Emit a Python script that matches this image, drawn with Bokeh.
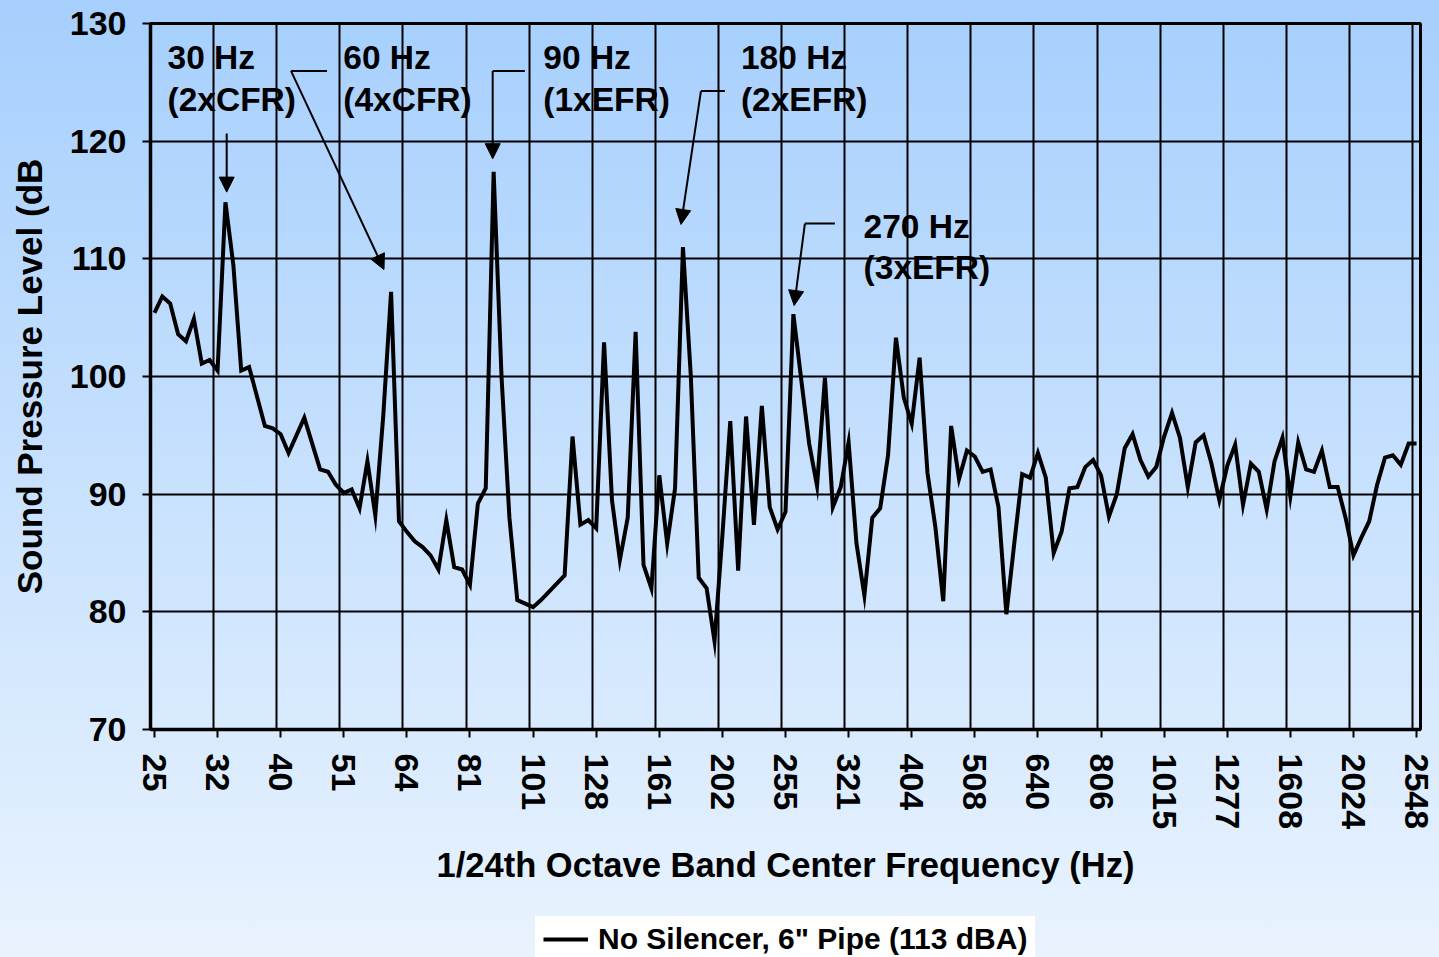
from bokeh.plotting import figure
from bokeh.layouts import column
from bokeh.models import (FixedTicker, Arrow, NormalHead, Legend, LegendItem,
                          ColumnDataSource, Range1d)
from bokeh.embed import file_html
from bokeh.resources import INLINE
from bokeh.core.properties import value

# ---- data -------------------------------------------------------------
tick_labels = ["25", "32", "40", "51", "64", "81", "101", "128", "161", "202",
               "255", "321", "404", "508", "640", "806", "1015", "1277", "1608",
               "2024", "2548"]

# 1/24th octave band sound pressure level (dB), 161 bands from 25 Hz to 2548 Hz
spl = [105.4, 106.8, 106.2, 103.6, 103.0, 104.9, 101.1, 101.4, 100.5, 114.8,
       109.5, 100.5, 100.8, 98.3, 95.8, 95.6, 95.1, 93.5, 95.0, 96.5,
       94.3, 92.1, 91.9, 90.8, 90.1, 90.4, 88.8, 92.8, 88.2, 96.6,
       107.2, 87.7, 86.8, 86.0, 85.5, 84.8, 83.6, 87.8, 83.8, 83.6,
       82.3, 89.2, 90.5, 117.4, 100.0, 88.0, 81.0, 80.7, 80.4, 81.0,
       81.7, 82.4, 83.1, 94.9, 87.4, 87.8, 87.1, 102.9, 89.5, 84.4,
       88.0, 103.8, 84.0, 82.0, 91.6, 85.8, 90.5, 111.0, 100.0, 82.9,
       82.0, 77.5, 86.5, 96.2, 83.5, 96.6, 87.4, 97.5, 88.9, 87.0,
       88.5, 105.3, 99.7, 94.3, 90.7, 99.9, 88.9, 90.6, 94.4, 85.8,
       81.4, 88.0, 88.8, 93.3, 103.3, 98.2, 96.0, 101.6, 91.8, 87.2,
       80.9, 95.8, 91.3, 93.7, 93.2, 91.9, 92.1, 88.9, 79.8, 85.8,
       91.7, 91.4, 93.5, 91.4, 85.0, 86.8, 90.5, 90.6, 92.3, 92.9,
       91.6, 88.1, 90.0, 93.9, 95.1, 92.9, 91.5, 92.3, 94.9, 96.9,
       94.8, 90.6, 94.4, 95.0, 92.6, 89.5, 92.4, 94.2, 89.1, 92.6,
       91.9, 88.7, 92.8, 94.8, 89.8, 94.4, 92.1, 91.9, 93.7, 90.6,
       90.6, 88.0, 84.8, 86.3, 87.7, 90.8, 93.1, 93.3, 92.5, 94.3,
       94.3]
band_index = list(range(len(spl)))

series_label = 'No Silencer, 6" Pipe (113 dBA)'

# annotations (band index, dB)
note_line1 = ["30 Hz", "60 Hz", "90 Hz", "180 Hz", "270 Hz"]
note_line2 = ["(2xCFR)", "(4xCFR)", "(1xEFR)", "(2xEFR)", "(3xEFR)"]
note_x = [1.66, 23.94, 49.3, 74.35, 89.9]
note_y1 = [127.08, 127.08, 127.08, 127.08, 112.77]
note_y2 = [123.53, 123.53, 123.53, 123.53, 109.26]

# arrow leaders: horizontal part then arrow
lead_x0 = [21.88, 46.96, 72.32, 86.26]
lead_x1 = [17.31, 42.88, 69.28, 82.46]
lead_y = [125.97, 125.97, 124.26, 113.0]
arrow_x0 = [9.16, 17.31, 42.88, 69.28, 82.46]
arrow_y0 = [120.66, 125.97, 125.97, 124.26, 113.0]
arrow_x1 = [9.16, 29.1, 42.88, 66.75, 81.1]
arrow_y1 = [115.67, 109.09, 118.51, 112.92, 106.03]

FONT = "Liberation Sans"

# ---- main figure ------------------------------------------------------
p = figure(frame_width=1270, frame_height=706,
           min_border_left=150, min_border_right=19,
           min_border_top=23, min_border_bottom=187,
           x_range=Range1d(-0.5, len(spl) - 0.5), y_range=Range1d(70, 130),
           output_backend="svg", toolbar_location=None)

p.background_fill_alpha = 0
p.border_fill_alpha = 0
p.outline_line_color = "black"
p.outline_line_width = 3
p.outline_line_alpha = 1

# grid
p.xgrid.ticker = FixedTicker(ticks=[8 * k - 0.5 for k in range(len(tick_labels))])
p.ygrid.ticker = FixedTicker(ticks=list(range(70, 131, 10)))
for g in (p.xgrid, p.ygrid):
    g.grid_line_color = "black"
    g.grid_line_width = 2
    g.grid_line_alpha = 1

# axes
p.xaxis.ticker = FixedTicker(ticks=[8 * k for k in range(len(tick_labels))])
p.xaxis.major_label_overrides = {8 * k: lbl for k, lbl in enumerate(tick_labels)}
p.xaxis.major_label_orientation = "vertical"
p.yaxis.ticker = FixedTicker(ticks=list(range(70, 131, 10)))
for ax in (p.xaxis, p.yaxis):
    ax.axis_line_color = "black"
    ax.axis_line_width = 3.5
    ax.major_tick_line_color = "black"
    ax.major_tick_line_width = 2
    ax.major_tick_in = 0
    ax.major_tick_out = 8
    ax.minor_tick_line_color = None
    ax.major_label_text_font = FONT
    ax.major_label_text_font_style = "bold"
    ax.major_label_text_font_size = "34px"
    ax.major_label_text_color = "black"
    ax.major_label_standoff = 16
    ax.axis_label_text_font = FONT
    ax.axis_label_text_font_style = "bold"
    ax.axis_label_text_color = "black"

p.xaxis.axis_label = "1/24th Octave Band Center Frequency (Hz)"
p.yaxis.axis_label = "Sound Pressure Level (dB"
p.xaxis.axis_label_text_font_size = "34.5px"
p.yaxis.axis_label_text_font_size = "35px"
p.xaxis.axis_label_standoff = 14
p.yaxis.axis_label_standoff = 18

# data line
src = ColumnDataSource(dict(x=band_index, y=spl))
p.line("x", "y", source=src, line_color="black", line_width=4, line_join="miter")

# annotations
nsrc = ColumnDataSource(dict(x=note_x, y1=note_y1, y2=note_y2, t1=note_line1, t2=note_line2))
for yk, tk in (("y1", "t1"), ("y2", "t2")):
    p.text(x="x", y=yk, text=tk, source=nsrc, text_font=value(FONT),
           text_font_style="bold", text_font_size="33.5px", text_color="black",
           text_align="left", text_baseline="middle")

p.segment(x0=lead_x0, y0=lead_y, x1=lead_x1, y1=lead_y, line_color="black", line_width=2)
for xs, ys, xe, ye in zip(arrow_x0, arrow_y0, arrow_x1, arrow_y1):
    p.add_layout(Arrow(end=NormalHead(size=15, fill_color="black", line_color="black"),
                       x_start=xs, y_start=ys, x_end=xe, y_end=ye,
                       line_color="black", line_width=2))

# ---- legend strip -----------------------------------------------------
q = figure(width=1439, height=41, min_border=0,
           x_range=Range1d(0, 1), y_range=Range1d(0, 1),
           x_axis_location=None, y_axis_location=None,
           output_backend="svg", toolbar_location=None)
q.background_fill_alpha = 0
q.border_fill_alpha = 0
q.outline_line_color = None
q.xgrid.visible = False
q.ygrid.visible = False
# legend key proxy for the series (kept outside the visible range)
key = q.line(x=[2, 3], y=[2, 2], line_color="black", line_width=4)
legend = Legend(items=[LegendItem(label=series_label, renderers=[key])],
                location=(385, -7), orientation="horizontal",
                background_fill_color="white", background_fill_alpha=1,
                border_line_alpha=0, label_text_font=FONT,
                label_text_font_style="bold", label_text_font_size="30px",
                label_text_color="black", glyph_width=45, glyph_height=32,
                label_height=32, label_standoff=10, padding=8, margin=0, spacing=0)
q.add_layout(legend)

page = column(p, q, spacing=0)
page.styles = {"background": "linear-gradient(to bottom, #a6cffd 0%, #e9f3fe 100%)"}

open("out.html", "w").write(file_html(page, INLINE))
